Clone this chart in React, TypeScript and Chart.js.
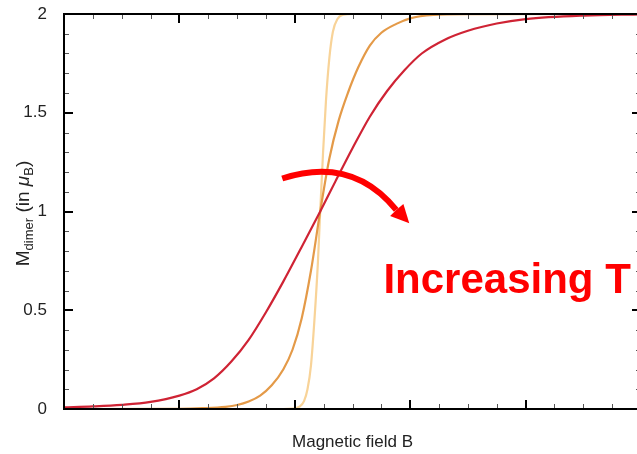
import React, { useEffect, useRef } from "react";
import { Chart, registerables } from "chart.js";

Chart.register(...registerables);

// ---- data ----
const redB = [0, 0.25, 0.5, 0.75, 1.0, 1.15, 1.3, 1.45, 1.6, 1.75, 1.9, 2.05, 2.22, 2.35, 2.5, 2.65, 2.8, 2.95, 3.1, 3.3, 3.5, 3.75, 4.0, 4.5, 5.0];
const redM = [0.008, 0.013, 0.021, 0.036, 0.068, 0.1, 0.155, 0.24, 0.35, 0.49, 0.645, 0.81, 1.0, 1.15, 1.32, 1.48, 1.61, 1.715, 1.8, 1.87, 1.915, 1.952, 1.974, 1.992, 1.998];

const orangeB = [0, 1.0, 1.2, 1.4, 1.5, 1.6, 1.7, 1.8, 1.9, 1.98, 2.06, 2.14, 2.22, 2.3, 2.38, 2.46, 2.55, 2.65, 2.75, 2.88, 3.0, 3.2, 3.5, 5.0];
const orangeM = [0, 0.001, 0.004, 0.011, 0.02, 0.038, 0.068, 0.12, 0.2, 0.3, 0.46, 0.7, 1.0, 1.27, 1.46, 1.6, 1.73, 1.84, 1.905, 1.95, 1.978, 1.995, 1.999, 2.0];

const lightB = [0, 1.9, 1.98, 2.04, 2.08, 2.11, 2.14, 2.17, 2.2, 2.22, 2.245, 2.27, 2.3, 2.33, 2.37, 2.42, 2.5, 5.0];
const lightM = [0, 0, 0.002, 0.012, 0.04, 0.1, 0.22, 0.45, 0.74, 1.0, 1.3, 1.56, 1.78, 1.91, 1.975, 1.997, 2.0, 2.0];

const yTickValues = [0, 0.5, 1, 1.5, 2];
const yTickLabels = ["0", "0.5", "1", "1.5", "2"];
const yMinorTicks = [0.1, 0.2, 0.3, 0.4, 0.6, 0.7, 0.8, 0.9, 1.1, 1.2, 1.3, 1.4, 1.6, 1.7, 1.8, 1.9];
const xMajorTicks = [0, 1, 2, 3, 4, 5];
const xMinorTicks = [0.25, 0.5, 0.75, 1.25, 1.5, 1.75, 2.25, 2.5, 2.75, 3.25, 3.5, 3.75, 4.25, 4.5, 4.75];

const xTitle = "Magnetic field B";
const annotationText = "Increasing T";
// annotation anchor (data coordinates)
const textPos = { b: 2.768, m: 0.589 };
const arrowStart = { b: 1.891, m: 1.167 };
const arrowCp1 = { b: 2.221, m: 1.23 };
const arrowCp2 = { b: 2.585, m: 1.22 };
const arrowEnd = { b: 2.879, m: 1.008 };
const arrowTip = { b: 2.992, m: 0.94 };
const arrowCorner1 = { b: 2.826, m: 0.977 };
const arrowCorner2 = { b: 2.941, m: 1.038 };

const FONT = "'Liberation Sans', Arial, Helvetica, sans-serif";

const toPts = (xs: number[], ys: number[]) => xs.map((x, i) => ({ x, y: ys[i] }));

const decorPlugin = {
  id: "decor",
  afterDatasetsDraw(chart: any) {
    const ctx = chart.ctx as CanvasRenderingContext2D;
    const xs = chart.scales.x;
    const ys = chart.scales.y;
    const { left, right, top, bottom } = chart.chartArea;
    const P = (p: { b: number; m: number }) => [xs.getPixelForValue(p.b), ys.getPixelForValue(p.m)];

    ctx.save();
    // minor ticks
    ctx.strokeStyle = "#555";
    ctx.lineWidth = 1;
    ctx.beginPath();
    xMinorTicks.forEach((v) => {
      const x = Math.round(xs.getPixelForValue(v)) + 0.5;
      ctx.moveTo(x, bottom); ctx.lineTo(x, bottom - 5);
      ctx.moveTo(x, top); ctx.lineTo(x, top + 5);
    });
    yMinorTicks.forEach((v) => {
      const y = Math.round(ys.getPixelForValue(v)) + 0.5;
      ctx.moveTo(left, y); ctx.lineTo(left + 5, y);
      ctx.moveTo(right, y); ctx.lineTo(right - 5, y);
    });
    ctx.stroke();
    // major ticks
    ctx.strokeStyle = "#000";
    ctx.lineWidth = 2;
    ctx.beginPath();
    xMajorTicks.forEach((v) => {
      const x = Math.round(xs.getPixelForValue(v));
      ctx.moveTo(x, bottom); ctx.lineTo(x, bottom - 9);
      ctx.moveTo(x, top); ctx.lineTo(x, top + 9);
    });
    yTickValues.forEach((v) => {
      const y = Math.round(ys.getPixelForValue(v));
      ctx.moveTo(left, y); ctx.lineTo(left + 9, y);
      ctx.moveTo(right, y); ctx.lineTo(right - 9, y);
    });
    ctx.stroke();
    // frame
    ctx.lineWidth = 2;
    ctx.strokeRect(left, top, right - left, bottom - top);

    // arrow
    const [sx, sy] = P(arrowStart);
    const [c1x, c1y] = P(arrowCp1);
    const [c2x, c2y] = P(arrowCp2);
    const [ex, ey] = P(arrowEnd);
    ctx.strokeStyle = "#ff0000";
    ctx.fillStyle = "#ff0000";
    ctx.lineWidth = 6;
    ctx.lineCap = "butt";
    ctx.beginPath();
    ctx.moveTo(sx, sy);
    ctx.bezierCurveTo(c1x, c1y, c2x, c2y, ex, ey);
    ctx.stroke();
    const [tx, ty] = P(arrowTip);
    const [k1x, k1y] = P(arrowCorner1);
    const [k2x, k2y] = P(arrowCorner2);
    ctx.beginPath();
    ctx.moveTo(tx, ty);
    ctx.lineTo(k1x, k1y);
    ctx.lineTo(ex, ey);
    ctx.lineTo(k2x, k2y);
    ctx.closePath();
    ctx.fill();

    // annotation text
    const [ax, ay] = P(textPos);
    ctx.font = `bold 42px ${FONT}`;
    ctx.textAlign = "left";
    ctx.textBaseline = "alphabetic";
    ctx.fillText(annotationText, ax, ay);

    // x title
    ctx.fillStyle = "#222";
    ctx.font = `17px ${FONT}`;
    ctx.textAlign = "center";
    ctx.fillText(xTitle, (left + right) / 2, 447);

    // y title with subscripts, rotated
    const pieces = [
      { t: "M", sub: false, it: false },
      { t: "dimer", sub: true, it: false },
      { t: " (in ", sub: false, it: false },
      { t: "\u03bc", sub: false, it: true },
      { t: "B", sub: true, it: false },
      { t: ")", sub: false, it: false },
    ];
    const fontFor = (p: any) => `${p.it ? "italic " : ""}${p.sub ? 13 : 19}px ${FONT}`;
    let total = 0;
    pieces.forEach((p) => { ctx.font = fontFor(p); total += ctx.measureText(p.t).width; });
    ctx.translate(29, (top + bottom) / 2 + 2);
    ctx.rotate(-Math.PI / 2);
    ctx.textAlign = "left";
    let cx = -total / 2;
    pieces.forEach((p) => {
      ctx.font = fontFor(p);
      ctx.fillText(p.t, cx, p.sub ? 4 : 0);
      cx += ctx.measureText(p.t).width;
    });
    ctx.restore();
  },
};

export default function App() {
  const ref = useRef<HTMLCanvasElement | null>(null);
  useEffect(() => {
    if (!ref.current) return;
    const chart = new Chart(ref.current, {
      type: "line",
      data: {
        datasets: [
          { data: toPts(redB, redM), borderColor: "#cf2334", borderWidth: 2.2, pointRadius: 0, cubicInterpolationMode: "monotone" },
          { data: toPts(orangeB, orangeM), borderColor: "#e49a48", borderWidth: 2.2, pointRadius: 0, cubicInterpolationMode: "monotone" },
          { data: toPts(lightB, lightM), borderColor: "#f8d398", borderWidth: 2.2, pointRadius: 0, cubicInterpolationMode: "monotone" },
        ],
      },
      options: {
        responsive: false,
        devicePixelRatio: 1,
        animation: false,
        layout: { padding: { top: 14, right: 19, left: 0, bottom: 0 } },
        plugins: { legend: { display: false }, tooltip: { enabled: false } },
        scales: {
          x: {
            type: "linear",
            min: 0,
            max: 5,
            ticks: { display: false },
            grid: { display: false, drawTicks: false },
            border: { display: false },
            afterFit: (s: any) => { s.height = 45; s.paddingLeft = 0; s.paddingRight = 0; },
          },
          y: {
            type: "linear",
            min: 0,
            max: 2,
            afterBuildTicks: (s: any) => { s.ticks = yTickValues.map((v) => ({ value: v })); },
            ticks: {
              padding: 17,
              color: "#222",
              font: { family: FONT, size: 17 },
              callback: (v: any) => {
                const i = yTickValues.indexOf(Number(v));
                return i >= 0 ? yTickLabels[i] : "";
              },
            },
            grid: { display: false, drawTicks: false },
            border: { display: false },
            afterFit: (s: any) => { s.width = 64; s.paddingTop = 0; s.paddingBottom = 0; },
          },
        },
      } as any,
      plugins: [decorPlugin],
    });
    return () => chart.destroy();
  }, []);
  return (
    <div style={{ position: "absolute", left: 0, top: 0, width: 637, height: 454, overflow: "hidden", background: "#fff" }}>
      <canvas ref={ref} width={660} height={454} style={{ display: "block", width: 660, height: 454 }} />
    </div>
  );
}
